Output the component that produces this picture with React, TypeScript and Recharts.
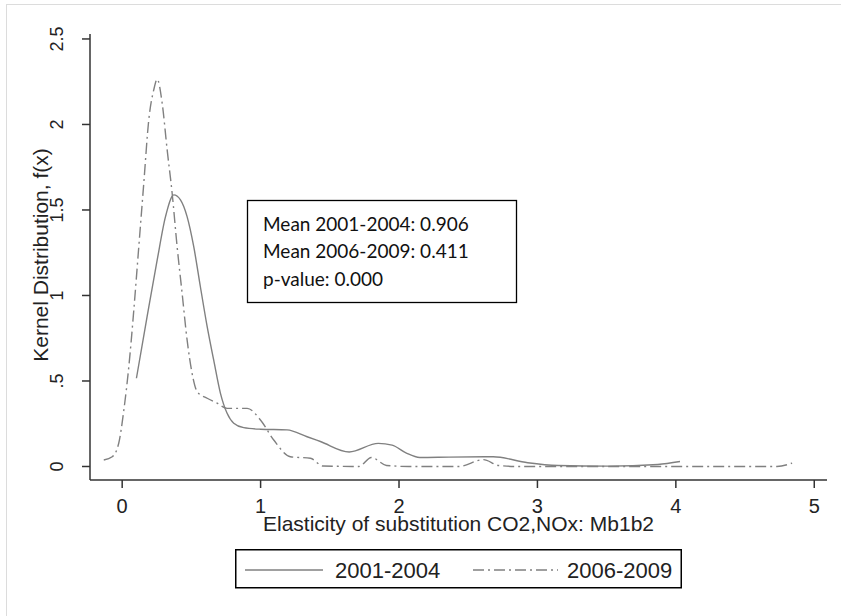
import React from 'react'
import { LineChart, Line, XAxis, YAxis, Legend, Customized } from 'recharts'

// kernel density estimates, read at the knots of each curve
const x2001 = [0.103, 0.18, 0.253, 0.313, 0.373, 0.421, 0.469, 0.517, 0.565, 0.614, 0.661, 0.71, 0.758, 0.806, 0.878, 0.999, 1.191, 1.336, 1.432, 1.64, 1.85, 1.95, 2.05, 2.15, 2.36, 2.68, 2.93, 3.15, 3.51, 3.87, 4.03]
const f2001 = [0.516, 0.876, 1.208, 1.461, 1.588, 1.559, 1.461, 1.285, 1.051, 0.818, 0.623, 0.428, 0.311, 0.253, 0.227, 0.218, 0.214, 0.174, 0.146, 0.085, 0.135, 0.125, 0.08, 0.053, 0.055, 0.057, 0.022, 0.006, 0.002, 0.012, 0.029]

const x2006 = [-0.133, -0.072, -0.025, 0.012, 0.048, 0.084, 0.12, 0.156, 0.192, 0.228, 0.253, 0.289, 0.325, 0.361, 0.397, 0.433, 0.469, 0.505, 0.542, 0.614, 0.686, 0.758, 0.903, 0.999, 1.095, 1.215, 1.36, 1.45, 1.71, 1.8, 1.91, 2.07, 2.43, 2.61, 2.72, 2.86, 4.73, 4.84]
const f2006 = [0.038, 0.057, 0.136, 0.33, 0.584, 0.915, 1.285, 1.656, 2.026, 2.202, 2.264, 2.124, 1.851, 1.598, 1.285, 1.013, 0.74, 0.545, 0.437, 0.399, 0.37, 0.34, 0.34, 0.272, 0.155, 0.057, 0.048, 0.003, 0.0, 0.053, 0.006, 0.0, 0.0, 0.04, 0.006, 0.0, 0.0, 0.02]

const xTicks = [0, 1, 2, 3, 4, 5]
const yTicks = [0, 0.5, 1, 1.5, 2, 2.5]
const seriesNames = ['2001-2004', '2006-2009']
const statLines = ['Mean 2001-2004: 0.906', 'Mean 2006-2009: 0.411', 'p-value: 0.000']

const data2001 = x2001.map((x, i) => ({ x, f: f2001[i] }))
const data2006 = x2006.map((x, i) => ({ x, f: f2006[i] }))

const FONT = '"Liberation Sans", Arial, sans-serif'
const INK = '#222'
const AXIS = '#333'
const CURVE = '#808080'
const DASH_DOT = '11 4 2 4'

const fmtY = (v: number) => (v === 0 ? '0' : String(v).replace(/^0\./, '.'))

const XTick = (props: any) => (
  <text x={props.x} y={props.y + 25} textAnchor="middle" fontFamily={FONT} fontSize={20} fill={INK}>
    {props.payload.value}
  </text>
)

const YTick = (props: any) => {
  const x = props.x - 18.5
  const y = props.y
  return (
    <text x={x} y={y} transform={`rotate(-90, ${x}, ${y})`} textAnchor="middle" fontFamily={FONT} fontSize={18} fill={INK}>
      {fmtY(props.payload.value)}
    </text>
  )
}

const StatsBox = () => (
  <g>
    <rect x={247.5} y={200.5} width={269} height={102} fill="#fff" stroke="#000" strokeWidth={1.3} />
    {statLines.map((s, i) => (
      <text key={s} x={263} y={230.5 + i * 27.6} fontFamily="Lato, sans-serif" fontSize={19} fill="#111">
        {s}
      </text>
    ))}
  </g>
)

const renderLegend = (props: any) => {
  const items = props.payload || []
  const slots = [
    { x1: 10, x2: 88, tx: 100 },
    { x1: 238, x2: 323, tx: 332 },
  ]
  return (
    <svg width={447} height={40} style={{ display: 'block' }}>
      <rect x={0.75} y={0.75} width={445.5} height={38} fill="#fff" stroke="#000" strokeWidth={1.5} />
      {items.map((it: any, i: number) => (
        <g key={it.value}>
          <line
            x1={slots[i].x1}
            x2={slots[i].x2}
            y1={21}
            y2={21}
            stroke={it.color}
            strokeWidth={1.4}
            strokeDasharray={it.payload?.strokeDasharray}
          />
          <text x={slots[i].tx} y={28.5} fontFamily={FONT} fontSize={22} fill={INK}>
            {it.value}
          </text>
        </g>
      ))}
    </svg>
  )
}

export default function App() {
  return (
    <div style={{ position: 'absolute', left: 0, top: 0, width: 841, height: 616, background: '#fff', overflow: 'hidden' }}>
      <div
        style={{
          position: 'absolute',
          left: 6,
          top: 4,
          width: 835,
          height: 612,
          borderTop: '1.5px solid #dcdcdc',
          borderLeft: '1.5px solid #dcdcdc',
        }}
      />
      <LineChart width={841} height={616} margin={{ top: 34, right: 14, bottom: 0, left: 0 }}>
        <XAxis
          type="number"
          dataKey="x"
          domain={[-0.2325, 5.092]}
          ticks={xTicks}
          allowDataOverflow
          height={136}
          tickSize={8}
          tickMargin={0}
          tick={<XTick />}
          tickLine={{ stroke: AXIS, strokeWidth: 1.5 }}
          axisLine={{ stroke: AXIS, strokeWidth: 1.5 }}
          label={({ viewBox }: any) => (
            <text x={viewBox.x + viewBox.width / 2} y={viewBox.y + 51} textAnchor="middle" fontFamily={FONT} fontSize={21} fill={INK}>
              Elasticity of substitution  CO2,NOx: Mb1b2
            </text>
          )}
        />
        <YAxis
          type="number"
          domain={[-0.079, 2.529]}
          ticks={yTicks}
          allowDataOverflow
          width={90}
          tickSize={8}
          tickMargin={0}
          tick={<YTick />}
          tickLine={{ stroke: AXIS, strokeWidth: 1.5 }}
          axisLine={{ stroke: AXIS, strokeWidth: 1.5 }}
          label={({ viewBox }: any) => {
            const x = 47.5
            const y = viewBox.y + viewBox.height / 2 - 2
            return (
              <text x={x} y={y} transform={`rotate(-90, ${x}, ${y})`} textAnchor="middle" fontFamily={FONT} fontSize={21} fill={INK}>
                Kernel Distribution, f(x)
              </text>
            )
          }}
        />
        <Line
          data={data2001}
          dataKey="f"
          name={seriesNames[0]}
          type="monotone"
          stroke={CURVE}
          strokeWidth={1.4}
          dot={false}
          isAnimationActive={false}
        />
        <Line
          data={data2006}
          dataKey="f"
          name={seriesNames[1]}
          type="monotone"
          stroke={CURVE}
          strokeWidth={1.4}
          strokeDasharray={DASH_DOT}
          dot={false}
          isAnimationActive={false}
        />
        <Customized component={StatsBox} />
        <Legend
          layout="vertical"
          align="center"
          verticalAlign="middle"
          content={renderLegend}
          wrapperStyle={{ left: 235, top: 549, width: 447, height: 40 }}
        />
      </LineChart>
    </div>
  )
}
